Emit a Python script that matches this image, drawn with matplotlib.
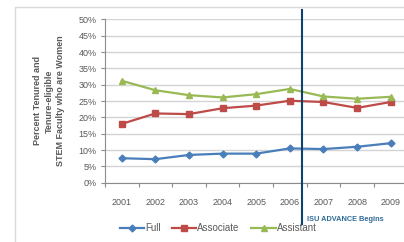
import matplotlib.pyplot as plt
from matplotlib.patches import Rectangle
from matplotlib.ticker import FixedLocator

# -----------------------------
# Data
# -----------------------------
years = ['2001', '2002', '2003', '2004', '2005', '2006', '2007', '2008', '2009']
full = [7.5, 7.2, 8.5, 8.9, 8.9, 10.5, 10.3, 11.0, 12.1]
associate = [18.0, 21.2, 21.0, 22.8, 23.6, 25.1, 24.7, 22.9, 24.7]
assistant = [31.2, 28.3, 26.8, 26.1, 27.1, 28.7, 26.4, 25.7, 26.3]
y_ticks = [0, 5, 10, 15, 20, 25, 30, 35, 40, 45, 50]
ylabel_lines = ['Percent Tenured and', 'Tenure-eligible', 'STEM Faculty who are Women']
advance_pos = 5.375  # between 2006 and 2007

plt.rcParams['font.family'] = ['Liberation Sans', 'DejaVu Sans']

fig = plt.figure(figsize=(4.04, 2.42), dpi=100)
fig.patches.append(Rectangle((15 / 404, -0.05), 1.0, 0.971 + 0.05, transform=fig.transFigure,
                             fill=False, edgecolor='#d9d9d9', lw=1.0))

ax = fig.add_axes([0.2597, 0.245, 0.749, 0.675])
x = list(range(len(years)))

ax.plot(x, full, color='#4a7ebb', lw=1.6, marker='D', markersize=3.5, label='Full')
ax.plot(x, associate, color='#be4b48', lw=1.6, marker='s', markersize=4.5, label='Associate')
ax.plot(x, assistant, color='#98b954', lw=1.6, marker='^', markersize=4.5, label='Assistant')

ax.set_xlim(-0.5, 8.5)
ax.set_ylim(0, 50)
ax.set_yticks(y_ticks)
ax.set_yticklabels([f'{v}%' for v in y_ticks])
ax.set_xticks(x)
ax.set_xticklabels(years)
ax.xaxis.set_minor_locator(FixedLocator([i - 0.5 for i in range(len(years) + 1)]))

ax.grid(axis='y', color='#d4d4d4', lw=1.0)
ax.set_axisbelow(True)
for s in ['top', 'right']:
    ax.spines[s].set_visible(False)
for s in ['left', 'bottom']:
    ax.spines[s].set_color('#8c8c8c')
    ax.spines[s].set_linewidth(0.8)

ax.tick_params(axis='y', length=3, width=0.8, color='#8c8c8c', labelsize=6.5,
               labelcolor='#595959', pad=3)
ax.tick_params(axis='x', which='major', length=0, labelsize=6.5, labelcolor='#595959', pad=11)
ax.tick_params(axis='x', which='minor', length=3, width=0.8, color='#8c8c8c')

# y label: one rotated text per line, each centred at the same height
for xpos, line in zip([0.094, 0.121, 0.149], ylabel_lines):
    fig.text(xpos, 0.583, line, rotation=90, ha='center', va='center',
             fontsize=6.5, fontweight='bold', color='#595959')

# ISU ADVANCE marker line
trans = ax.get_xaxis_transform()
ax.plot([advance_pos, advance_pos], [-0.253, 1.057], transform=trans, color='#0d416e',
        lw=1.5, clip_on=False, zorder=5)
ax.text(advance_pos + 0.14, -0.228, 'ISU ADVANCE Begins', transform=trans, fontsize=5.3,
        fontweight='bold', color='#2f6b98', va='center', ha='left')

fig.legend(loc='center', bbox_to_anchor=(0.54, 0.058), ncol=3, frameon=False, fontsize=7,
           handlelength=2.5, handletextpad=0.1, columnspacing=1.2, labelcolor='#595959')

fig.savefig('out.png', dpi=100)
